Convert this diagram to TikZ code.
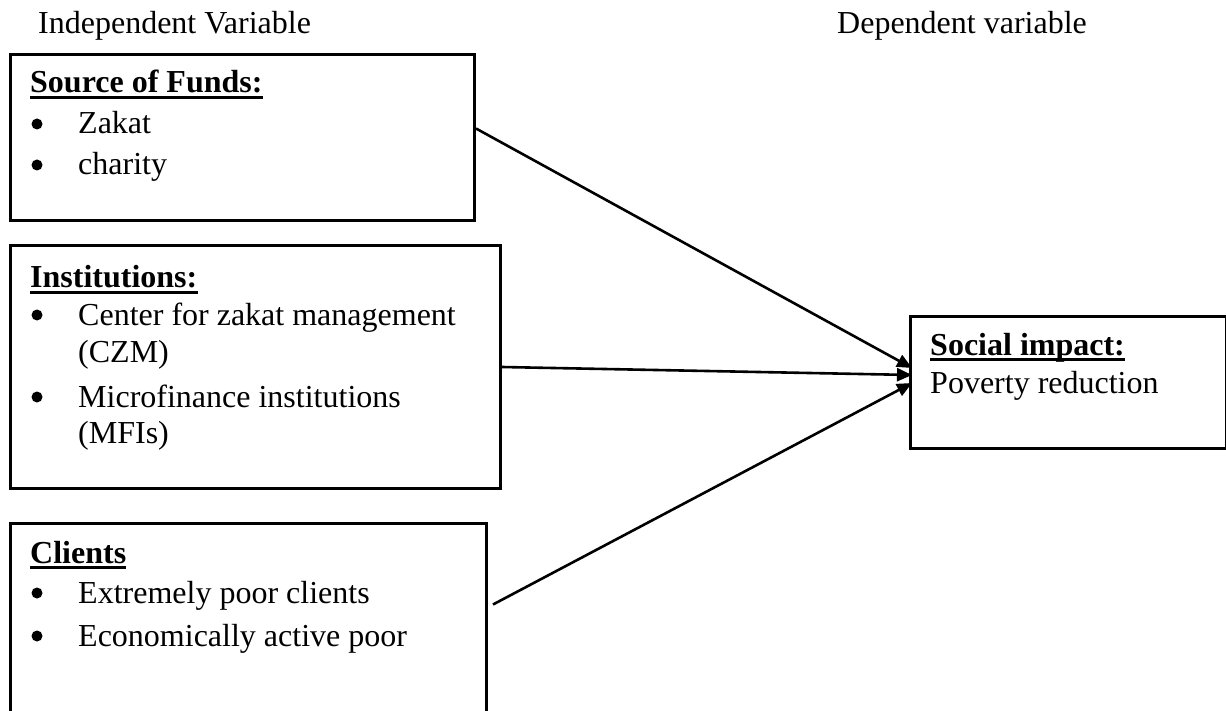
\documentclass[tikz,border=0pt]{standalone}
\usepackage{fontspec}
\setmainfont{Liberation Serif}
\usetikzlibrary{arrows.meta}
\begin{document}
\begin{tikzpicture}[x=1pt,y=-1pt,
  box/.style={draw, line width=3pt, anchor=north west, inner sep=0},
  txt/.style={anchor=base west, inner sep=0, font=\fontsize{32}{38}\selectfont},
  head/.style={anchor=base west, inner sep=0, font=\fontsize{32}{38}\selectfont\bfseries},
  dot/.style={circle, fill, inner sep=0, minimum size=11pt},
  ul/.style={line width=2.5pt},
  conn/.style={line width=2.6pt, -{Triangle[length=15pt,width=13pt]}}]
\useasboundingbox (0,0) rectangle (1226,711);

% column titles
\node[txt] (indep) at (38,34) {Independent Variable};
\node[txt] (dep) at (837,34) {Dependent variable};

% boxes
\node[box, minimum width=464pt, minimum height=166pt] (b1) at (9,53) {};
\node[box, minimum width=490pt, minimum height=243pt] (b2) at (9,244) {};
\node[box, minimum width=476pt, minimum height=210pt] (b3) at (9,522) {};
\node[box, minimum width=316pt, minimum height=132pt] (b4) at (909,315) {};

% box 1
\node[head] (h1) at (30,93) {Source of Funds:};
\draw[ul] ([yshift=-4.5pt]h1.base west) -- ([yshift=-4.5pt]h1.base east);
\node[dot] (d11) at (37,124) {};
\node[txt] (t11) at (78,134) {Zakat};
\node[dot] (d12) at (37,165) {};
\node[txt] (t12) at (78,175) {charity};

% box 2
\node[head] (h2) at (30,288) {Institutions:};
\draw[ul] ([yshift=-4.5pt]h2.base west) -- ([yshift=-4.5pt]h2.base east);
\node[dot] (d21) at (37,315) {};
\node[txt] (t21) at (78,325) {Center for zakat management};
\node[txt] (t22) at (78,362) {(CZM)};
\node[dot] (d22) at (37,397) {};
\node[txt] (t23) at (78,407) {Microfinance institutions};
\node[txt] (t24) at (78,443) {(MFIs)};

% box 3
\node[head] (h3) at (30,563) {Clients};
\draw[ul] ([yshift=-4.5pt]h3.base west) -- ([yshift=-4.5pt]h3.base east);
\node[dot] (d31) at (37,593) {};
\node[txt] (t31) at (78,603) {Extremely poor clients};
\node[dot] (d32) at (37,636) {};
\node[txt] (t32) at (78,646) {Economically active poor};

% box 4
\node[head] (h4) at (930,355) {Social impact:};
\draw[ul] ([yshift=-4.5pt]h4.base west) -- ([yshift=-4.5pt]h4.base east);
\node[txt] (t41) at (930,393) {Poverty reduction};

% arrow targets
\coordinate (e1) at (912,368);
\coordinate (e2) at (912,375);
\coordinate (e3) at (912,383);

\draw[conn] ([yshift=9pt]b1.east) -- (e1);
\draw[conn] (b2.east) -- (e2);
\draw[conn] ([xshift=5pt,yshift=24pt]b3.east) -- (e3);
\end{tikzpicture}
\end{document}
